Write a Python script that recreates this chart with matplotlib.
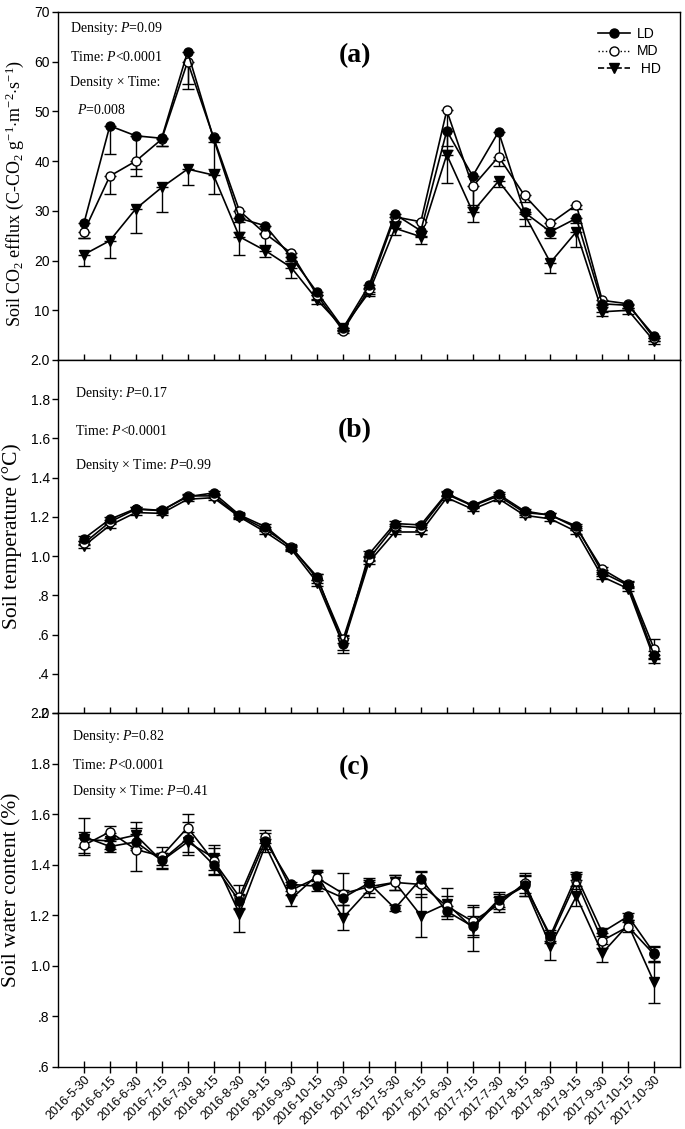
import matplotlib
matplotlib.use("Agg")
import matplotlib.pyplot as plt
from matplotlib.lines import Line2D
import numpy as np

plt.rcParams['font.family'] = ['Liberation Sans', 'DejaVu Sans']
plt.rcParams['mathtext.fontset'] = 'custom'
plt.rcParams['mathtext.rm'] = 'Liberation Serif'
plt.rcParams['mathtext.it'] = 'Liberation Serif:italic'
plt.rcParams['mathtext.bf'] = 'Liberation Serif:bold'

dates = ['2016-5-30', '2016-6-15', '2016-6-30', '2016-7-15', '2016-7-30', '2016-8-15',
         '2016-8-30', '2016-9-15', '2016-9-30', '2016-10-15', '2016-10-30',
         '2017-5-15', '2017-5-30', '2017-6-15', '2017-6-30', '2017-7-15', '2017-7-30',
         '2017-8-15', '2017-8-30', '2017-9-15', '2017-9-30', '2017-10-15', '2017-10-30']

# Panel (a): soil CO2 efflux
co2_ld = [27.5, 47.1, 45.1, 44.6, 62.0, 44.6, 28.5, 27.0, 20.7, 13.6, 6.4,
          15.0, 29.3, 26.0, 46.1, 37.0, 45.9, 29.7, 25.8, 28.5, 11.3, 11.0, 4.9]
co2_md = [25.8, 37.0, 40.0, 44.4, 60.0, 44.8, 30.0, 25.4, 21.5, 13.0, 5.9,
          14.3, 28.8, 27.8, 50.2, 34.9, 40.9, 33.1, 27.5, 31.2, 12.0, 11.3, 4.4]
co2_hd = [21.2, 24.0, 30.4, 34.7, 38.4, 37.2, 24.8, 22.0, 18.6, 12.1, 6.5,
          13.6, 26.5, 24.8, 41.3, 29.8, 36.0, 29.3, 19.6, 25.8, 9.7, 10.0, 3.8]
co2_ld_err = [3.0, 5.6, 6.7, 1.5, 6.5, 6.2, 2.7, 1.5, 0.8, 0.6, 0.4,
              0.5, 1.3, 1.0, 3.8, 5.9, 5.6, 1.4, 1.3, 1.0, 0.7, 0.5, 0.5]
co2_md_err = [1.3, 3.7, 3.0, 1.3, 5.5, 1.0, 2.2, 2.2, 1.6, 0.7, 0.4,
              1.0, 1.0, 1.8, 7.2, 4.1, 1.9, 1.3, 1.0, 0.9, 1.0, 0.8, 0.5]
co2_hd_err = [2.2, 3.4, 4.9, 5.0, 3.2, 3.9, 3.6, 1.3, 2.2, 0.8, 0.5,
              0.8, 1.3, 1.4, 5.7, 2.1, 1.3, 2.3, 2.2, 3.1, 0.9, 0.7, 0.6]

# Panel (b): soil temperature
tmp_ld = [1.089, 1.188, 1.242, 1.233, 1.303, 1.322, 1.210, 1.150, 1.043, 0.895, 0.550,
          1.010, 1.166, 1.159, 1.320, 1.259, 1.315, 1.230, 1.208, 1.154, 0.916, 0.851, 0.494]
tmp_md = [1.065, 1.174, 1.239, 1.232, 1.307, 1.307, 1.205, 1.137, 1.047, 0.885, 0.576,
          0.987, 1.154, 1.145, 1.315, 1.256, 1.307, 1.222, 1.210, 1.145, 0.933, 0.856, 0.528]
tmp_hd = [1.052, 1.157, 1.222, 1.218, 1.290, 1.298, 1.200, 1.123, 1.035, 0.865, 0.550,
          0.970, 1.123, 1.123, 1.298, 1.239, 1.293, 1.208, 1.190, 1.125, 0.895, 0.834, 0.477]
tmp_ld_err = [0.012, 0.012, 0.010, 0.010, 0.010, 0.012, 0.010, 0.012, 0.010, 0.015, 0.030,
              0.015, 0.012, 0.012, 0.010, 0.010, 0.010, 0.010, 0.010, 0.010, 0.015, 0.015, 0.020]
tmp_md_err = [0.010, 0.010, 0.010, 0.010, 0.010, 0.010, 0.010, 0.010, 0.010, 0.022, 0.020,
              0.012, 0.012, 0.012, 0.010, 0.010, 0.010, 0.010, 0.010, 0.010, 0.012, 0.015, 0.048]
tmp_hd_err = [0.012, 0.012, 0.012, 0.010, 0.010, 0.012, 0.010, 0.012, 0.010, 0.015, 0.045,
              0.012, 0.012, 0.012, 0.010, 0.010, 0.010, 0.010, 0.010, 0.010, 0.012, 0.012, 0.020]

# Panel (c): soil water content
swc_ld = [1.511, 1.472, 1.490, 1.417, 1.503, 1.400, 1.256, 1.494, 1.322, 1.315, 1.269,
          1.328, 1.227, 1.344, 1.216, 1.156, 1.262, 1.318, 1.120, 1.355, 1.133, 1.196, 1.050]
swc_md = [1.477, 1.530, 1.460, 1.434, 1.547, 1.415, 1.273, 1.511, 1.300, 1.348, 1.286,
          1.313, 1.330, 1.322, 1.236, 1.176, 1.242, 1.328, 1.110, 1.335, 1.100, 1.155, 1.045]
swc_hd = [1.500, 1.494, 1.517, 1.415, 1.490, 1.428, 1.207, 1.477, 1.265, 1.358, 1.190,
          1.302, 1.330, 1.199, 1.246, 1.150, 1.256, 1.315, 1.080, 1.275, 1.050, 1.163, 0.935]
swc_ld_err = [0.072, 0.020, 0.030, 0.030, 0.065, 0.040, 0.030, 0.030, 0.010, 0.020, 0.030,
              0.020, 0.012, 0.030, 0.020, 0.040, 0.030, 0.040, 0.020, 0.015, 0.015, 0.015, 0.030]
swc_md_err = [0.030, 0.025, 0.085, 0.035, 0.055, 0.050, 0.045, 0.025, 0.020, 0.025, 0.080,
              0.025, 0.030, 0.050, 0.040, 0.055, 0.030, 0.040, 0.020, 0.030, 0.030, 0.020, 0.030]
swc_hd_err = [0.030, 0.030, 0.050, 0.030, 0.040, 0.050, 0.075, 0.025, 0.030, 0.020, 0.050,
              0.030, 0.030, 0.085, 0.060, 0.090, 0.030, 0.040, 0.055, 0.040, 0.035, 0.020, 0.080]

x = np.arange(1, len(dates) + 1)

fig = plt.figure(figsize=(6.85, 11.29), dpi=100)
W = 1129.0
left = 58 / 685.0
width = (680 - 58) / 685.0
tops = [12, 360, 713]
bots = [360, 713, 1067]
axes = []
for t, b in zip(tops, bots):
    ax = fig.add_axes([left, 1 - b / W, width, (b - t) / W])
    axes.append(ax)

serif = 'Liberation Serif'

def draw(ax, ld, md, hd, eld, emd, ehd, lower_only):
    specs = [
        (hd, ehd, dict(marker='v', mfc='black', mec='black')),
        (md, emd, dict(marker='o', mfc='white', mec='black')),
        (ld, eld, dict(marker='o', mfc='black', mec='black')),
    ]
    for vals, err, mk in specs:
        err = np.array(err)
        if lower_only:
            yerr = [err, np.zeros_like(err)]
        else:
            yerr = err
        ax.errorbar(x, vals, yerr=yerr, color='black', lw=1.2, ms=6.5,
                    capsize=4, capthick=1.0, elinewidth=1.0, mew=1.0, **mk)

draw(axes[0], co2_ld, co2_md, co2_hd, co2_ld_err, co2_md_err, co2_hd_err, True)
draw(axes[1], tmp_ld, tmp_md, tmp_hd, tmp_ld_err, tmp_md_err, tmp_hd_err, False)
draw(axes[2], swc_ld, swc_md, swc_hd, swc_ld_err, swc_md_err, swc_hd_err, False)

# axes limits and ticks
axes[0].set_ylim(0, 70)
axes[0].set_yticks([10, 20, 30, 40, 50, 60, 70])
axes[0].set_yticklabels(['10', '20', '30', '40', '50', '60', '70'])

axes[1].set_ylim(0.2, 2.0)
bt = [0.2, 0.4, 0.6, 0.8, 1.0, 1.2, 1.4, 1.6, 1.8, 2.0]
axes[1].set_yticks(bt)
axes[1].set_yticklabels(['.2', '.4', '.6', '.8', '1.0', '1.2', '1.4', '1.6', '1.8', '2.0'])

axes[2].set_ylim(0.6, 2.0)
ct = [0.6, 0.8, 1.0, 1.2, 1.4, 1.6, 1.8, 2.0]
axes[2].set_yticks(ct)
axes[2].set_yticklabels(['.6', '.8', '1.0', '1.2', '1.4', '1.6', '1.8', '2.0'])

for i, ax in enumerate(axes):
    ax.set_xlim(0, len(dates) + 1)
    ax.set_xticks(x)
    ax.tick_params(axis='y', direction='out', length=4, width=1, labelsize=10, pad=2)
    ax.tick_params(axis='x', direction='inout', length=8, width=1)
    for s in ax.spines.values():
        s.set_linewidth(1.0)
    if i < 2:
        ax.set_xticklabels([])
    else:
        ax.set_xticklabels(dates, rotation=45, ha='right', rotation_mode='anchor', fontsize=9)
        ax.tick_params(axis='x', pad=1)

# y labels
axes[0].set_ylabel(r'Soil CO$_2$ efflux (C-CO$_2$ g$^{-1}$$\cdot$m$^{-2}$$\cdot$s$^{-1}$)',
                   fontsize=13, family=serif)
axes[1].set_ylabel('Soil temperature (°C)', fontsize=15.5, family=serif)
axes[2].set_ylabel('Soil water content (%)', fontsize=15.5, family=serif)
axes[0].yaxis.set_label_coords(-0.052, 0.48)
axes[1].yaxis.set_label_coords(-0.058, 0.5)
axes[2].yaxis.set_label_coords(-0.058, 0.5)

# annotations
tkw = dict(fontsize=10, family=serif, va='center', ha='left')
a0 = axes[0]
a0.text(0.02, 0.954, r'Density: $P$=0.09', transform=a0.transAxes, **tkw)
a0.text(0.02, 0.872, r'Time: $P$<0.0001', transform=a0.transAxes, **tkw)
a0.text(0.02, 0.796, r'Density × Time:', transform=a0.transAxes, **tkw)
a0.text(0.031, 0.718, r'$P$=0.008', transform=a0.transAxes, **tkw)
a0.text(0.477, 0.876, '(a)', transform=a0.transAxes, fontsize=20, family=serif,
        fontweight='bold', ha='center', va='center')

a1 = axes[1]
a1.text(0.028, 0.906, r'Density: $P$=0.17', transform=a1.transAxes, **tkw)
a1.text(0.028, 0.800, r'Time: $P$<0.0001', transform=a1.transAxes, **tkw)
a1.text(0.028, 0.700, r'Density × Time: $P$=0.99', transform=a1.transAxes, **tkw)
a1.text(0.477, 0.800, '(b)', transform=a1.transAxes, fontsize=20, family=serif,
        fontweight='bold', ha='center', va='center')

a2 = axes[2]
a2.text(0.022, 0.935, r'Density: $P$=0.82', transform=a2.transAxes, **tkw)
a2.text(0.022, 0.853, r'Time: $P$<0.0001', transform=a2.transAxes, **tkw)
a2.text(0.022, 0.777, r'Density × Time: $P$=0.41', transform=a2.transAxes, **tkw)
a2.text(0.477, 0.845, '(c)', transform=a2.transAxes, fontsize=20, family=serif,
        fontweight='bold', ha='center', va='center')

# legend
handles = [
    Line2D([], [], color='black', lw=1.2, ls='-', marker='o', mfc='black', mec='black', ms=6.5),
    Line2D([], [], color='black', lw=1.0, ls=':', marker='o', mfc='white', mec='black', ms=6.5),
    Line2D([], [], color='black', lw=1.2, ls='--', marker='v', mfc='black', mec='black', ms=6.5),
]
a0.legend(handles, ['LD', 'MD', ' HD'], loc='upper right', bbox_to_anchor=(0.985, 0.985),
          frameon=False, fontsize=10, handlelength=2.3, labelspacing=0.25,
          handletextpad=0.5, borderpad=0.2)

fig.savefig('out.png', dpi=100)
